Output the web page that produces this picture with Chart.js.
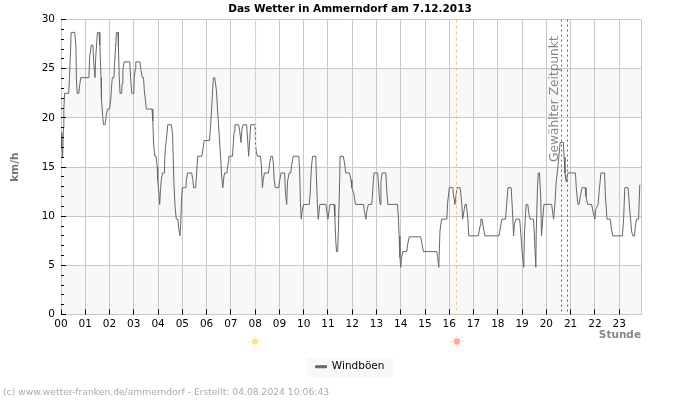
<!DOCTYPE html>
<html>
<head>
<meta charset="utf-8">
<title>Das Wetter in Ammerndorf</title>
<script src="https://cdn.jsdelivr.net/npm/chart.js@4"></script>
<style>
  html, body { margin: 0; padding: 0; background: #fff; }
  canvas { display: block; }
</style>
</head>
<body>
<canvas id="wind" width="700" height="400"></canvas>
<script>
const FONT = "'DejaVu Sans'";

const hourLabels = ["00","01","02","03","04","05","06","07","08","09","10","11","12","13","14","15","16","17","18","19","20","21","22","23"];

// minutes since midnight
const sampleMinutes = [
  1,2,4,6,7,9,19,21,24,25,34,37,38,40,44,46,49,69,71,75,79,81,84,86,88,90,94,96,99,100,103,105,109,112,115,120,
  123,125,127,131,132,135,137,141,142,144,146,150,151,153,156,170,172,175,180,181,184,185,195,198,201,204,206,209,211,225,
  227,229,232,235,238,239,242,244,246,248,251,255,256,258,261,264,273,276,279,282,285,289,291,294,296,298,300,309,310,313,
  323,326,328,333,336,338,348,351,354,367,370,372,375,377,380,384,388,395,397,400,403,405,410,414,415,424,426,428,430,439,
  442,445,447,450,459,462,464,469,480,481,485,493,495,498,500,503,513,516,519,523,525,527,530,538,541,544,553,555,558,560,
  564,568,570,574,588,590,592,594,596,600,614,616,619,622,630,631,634,636,640,655,657,660,665,675,677,679,681,684,686,689,
  690,698,701,704,713,717,719,724,728,748,750,754,756,760,768,770,772,774,783,787,789,791,794,803,806,808,832,834,836,838,
  840,842,845,855,857,861,889,893,896,929,931,934,937,941,954,956,960,969,970,974,979,987,991,993,997,999,1002,1006,1008,1032,
  1036,1038,1041,1045,1048,1083,1087,1090,1099,1102,1105,1113,1116,1119,1121,1125,1134,1136,1140,1144,1146,1150,1154,1157,1160,1168,1170,1174,1175,1178,
  1180,1183,1186,1188,1191,1194,1213,1218,1222,1224,1227,1231,1234,1242,1244,1246,1249,1251,1254,1272,1274,1278,1281,1284,1288,1296,1298,1302,1312,1315,
  1320,1322,1328,1331,1335,1344,1346,1350,1358,1361,1364,1388,1391,1394,1402,1406,1411,1414,1418,1420,1423,1428,1431
];

// km/h
const windGusts = [
  18.5,17,16,19,20.9,22.5,22.5,24.1,27.2,28.7,28.7,27.2,24.1,22.5,22.5,23.3,24.1,24.1,26.3,27.4,27.4,25.5,24.1,26.3,27.4,28.7,28.7,27.4,24.1,22,20.2,19.3,19.3,20.3,20.9,20.9,
  21.8,23.2,24.1,24.1,25.2,27.2,28.7,28.7,27.2,24.1,22.5,22.5,23.5,24.9,25.7,25.7,24.1,22.5,22.5,24.1,25,25.7,25.7,24.8,24.1,24.1,22.8,21.7,20.9,20.9,
  19.7,17.3,16.1,16.1,15,13.7,12.4,11.2,12.7,13.7,14.4,14.4,15.3,16.9,18,19.3,19.3,18.2,13.5,11,9.7,9.7,8.8,8,9.3,11.7,12.9,12.9,13.7,14.4,
  14.4,13.7,12.9,12.9,14.8,16.1,16.1,16.8,17.7,17.7,19.3,20.6,22.9,24.1,24.1,22.9,20.2,15.8,14.1,12.9,14.1,14.4,14.4,15.6,16.1,16.1,17.4,18.6,19.3,19.3,
  18.6,17.5,18.7,19.3,19.3,17.4,16.1,19.3,19.3,17.2,16.1,16.1,15.4,12.9,13.7,14.4,14.4,15.4,16.1,16.1,15.4,13.7,12.9,12.9,13.7,14.4,14.4,12.3,11.2,13.5,
  14.4,14.4,15.1,16.1,16.1,14.6,11.4,9.7,10.5,11.2,11.2,12.3,14.9,16.1,16.1,14.6,11.2,9.7,11.2,11.2,10.5,9.7,11.2,11.2,10,7.8,6.4,6.4,8.8,13.7,
  16.1,16.1,15.4,14.4,14.4,13.7,12.9,12.3,11.2,11.2,10.5,9.7,10.5,11.2,11.2,12,13.5,14.4,14.4,12,11.2,13.5,14.4,14.4,12.3,11.2,11.2,10,8,5.8,
  4.8,5.8,6.4,6.4,7.1,7.9,7.9,7.1,6.4,6.4,5.9,4.8,8.5,9.7,9.7,11.4,12.9,12.9,12.3,11.2,12.9,12.9,11.2,9.7,10.7,11.2,11.2,9.7,8,8,
  9,9.7,9.7,8.7,8,8,9,9.7,9.7,11.2,12.9,12.9,10.7,8,9.2,9.7,9.7,8.7,6.4,4.8,8.4,11.2,11.2,10.2,9.7,9.7,8.4,4.8,8.4,12.9,
  14.4,14.4,12,8,9.7,11.2,11.2,9.7,11.7,13.4,14.4,16.1,17.5,17.5,16,14.4,13.5,14.1,14.4,14.4,12.9,11.2,11.2,12,12.9,12.9,12,11.2,11.2,10.5,
  9.7,10.7,11.2,12.7,14.4,14.4,12,9.7,9.7,8.7,8,8,9.7,12.9,12.9,10.7,8.4,8,8,9,9.7,9.7,13.2
];

const lastMinute = 1434;
const sunriseMinute = 480;
const sunsetMinute = 979;
const selectedMinutes = [1238, 1252];

// same pixel snapping as the library's grid lines
const snap = (px) => Math.round(px - 0.5) + 0.5;

const chromePlugin = {
  id: "chrome",
  beforeDraw(chart) {
    // light bands behind every other 5 km/h
    const { ctx, chartArea: a, scales: { y } } = chart;
    ctx.save();
    ctx.fillStyle = "#f8f8f8";
    for (let v = 0; v < 30; v += 10) {
      ctx.fillRect(a.left, y.getPixelForValue(v + 5), a.width, y.getPixelForValue(v) - y.getPixelForValue(v + 5));
    }
    // grey box behind the legend
    ctx.fillRect(307, 358, 86, 19);
    ctx.restore();
  },
  afterDatasetsDraw(chart) {
    const { ctx, chartArea: a, scales: { x, y } } = chart;
    const vline = (minute) => {
      const px = snap(x.getPixelForValue(minute));
      ctx.beginPath();
      ctx.moveTo(px, a.top);
      ctx.lineTo(px, a.bottom);
      ctx.stroke();
    };
    ctx.save();
    ctx.lineWidth = 1;
    ctx.strokeStyle = "#c8c8c8";
    vline(lastMinute);
    // sunrise sits on a grid line, so it is drawn a bit wider
    ctx.setLineDash([3, 2]);
    ctx.lineWidth = 1.3;
    ctx.strokeStyle = "#f6e66a";
    vline(sunriseMinute);
    ctx.lineWidth = 1;
    ctx.setLineDash([3, 3]);
    ctx.strokeStyle = "#f5c77e";
    vline(sunsetMinute);
    ctx.setLineDash([2, 3]);
    ctx.strokeStyle = "#666";
    selectedMinutes.forEach((m) => vline(m));
    ctx.setLineDash([]);

    // small ticks inside the plot
    ctx.strokeStyle = "#000";
    for (let v = 0; v <= 30; v++) {
      const py = snap(y.getPixelForValue(v));
      ctx.beginPath();
      ctx.moveTo(a.left, py);
      ctx.lineTo(a.left + (v % 5 === 0 ? 5 : 3), py);
      ctx.stroke();
    }
    for (let h = 0; h < 24; h++) {
      const px = snap(x.getPixelForValue(h * 60));
      ctx.beginPath();
      ctx.moveTo(px, a.bottom);
      ctx.lineTo(px, a.bottom - 5);
      ctx.stroke();
    }

    // label of the selected time
    ctx.save();
    ctx.translate(x.getPixelForValue(selectedMinutes[0]) - 7, 162);
    ctx.rotate(-Math.PI / 2);
    ctx.fillStyle = "#888";
    ctx.font = "12.2px " + FONT;
    ctx.textAlign = "left";
    ctx.textBaseline = "middle";
    ctx.fillText("Gewählter Zeitpunkt", 0, 0);
    ctx.restore();

    // sunrise and sunset symbols
    drawSun(ctx, x.getPixelForValue(sunriseMinute), a.bottom + 27, "#ffe28a");
    drawSun(ctx, x.getPixelForValue(sunsetMinute), a.bottom + 27, "#ffaa98");

    ctx.fillStyle = "#aaa";
    ctx.font = "9.2px " + FONT;
    ctx.textAlign = "left";
    ctx.textBaseline = "middle";
    ctx.fillText("(c) www.wetter-franken.de/ammerndorf - Erstellt: 04.08.2024 10:06:43", 3, 393);
    ctx.restore();
  }
};

function drawSun(ctx, cx, cy, color) {
  ctx.save();
  ctx.fillStyle = color;
  ctx.strokeStyle = color;
  ctx.lineWidth = 0.8;
  ctx.beginPath();
  ctx.arc(cx, cy, 3.2, 0, Math.PI * 2);
  ctx.fill();
  for (let i = 0; i < 8; i++) {
    const t = i * Math.PI / 4;
    ctx.beginPath();
    ctx.moveTo(cx + Math.cos(t) * 4.2, cy + Math.sin(t) * 4.2);
    ctx.lineTo(cx + Math.cos(t) * 6, cy + Math.sin(t) * 6);
    ctx.stroke();
  }
  ctx.restore();
}

new Chart(document.getElementById("wind"), {
  type: "line",
  data: {
    datasets: [{
      label: "Windböen",
      data: sampleMinutes.map((m, i) => ({ x: m, y: windGusts[i] })),
      borderColor: "#666",
      backgroundColor: "#666",
      borderWidth: 1,
      pointRadius: 0,
      tension: 0
    }]
  },
  options: {
    responsive: false,
    animation: false,
    layout: { padding: { left: 0, right: 0, top: 0, bottom: 18 } },
    plugins: {
      title: {
        display: true,
        text: "Das Wetter in Ammerndorf am 7.12.2013",
        color: "#000",
        font: { family: FONT, size: 10.5, weight: "bold" },
        padding: { top: 3, bottom: 4 }
      },
      legend: {
        position: "bottom",
        labels: {
          color: "#000",
          font: { family: FONT, size: 10.5 },
          boxWidth: 11,
          boxHeight: 2,
          padding: 6
        }
      },
      tooltip: { enabled: false }
    },
    scales: {
      x: {
        type: "linear",
        min: 0,
        max: lastMinute,
        afterFit(s) { s.height = 41; },
        afterBuildTicks(s) { s.ticks = hourLabels.map((_, i) => ({ value: i * 60 })); },
        grid: { color: "#c8c8c8", drawTicks: false },
        border: { color: "#c8c8c8" },
        ticks: {
          color: "#000",
          font: { family: FONT, size: 10.5 },
          padding: 3,
          maxRotation: 0,
          autoSkip: false,
          callback: (v) => hourLabels[v / 60]
        },
        title: {
          display: true,
          text: "Stunde",
          align: "end",
          color: "#888",
          font: { family: FONT, size: 10.5, weight: "bold" },
          padding: { top: 0, bottom: 14 }
        }
      },
      y: {
        min: 0,
        max: 30,
        afterFit(s) { s.width = 61; },
        grid: { color: "#c8c8c8", drawTicks: false },
        border: { color: "#c8c8c8" },
        ticks: {
          stepSize: 5,
          color: "#000",
          font: { family: FONT, size: 10.5 },
          padding: 6
        },
        title: {
          display: true,
          text: "km/h",
          color: "#777",
          font: { family: FONT, size: 10.5, weight: "bold" },
          padding: { top: 9, bottom: 0 }
        }
      },
      // empty axis that keeps the right margin, so title and legend centre on the page
      yRight: {
        axis: "y",
        position: "right",
        min: 0,
        max: 30,
        afterFit(s) { s.width = 59; },
        grid: { display: false },
        border: { display: false },
        ticks: { display: false }
      }
    }
  },
  plugins: [chromePlugin]
});
</script>
</body>
</html>
